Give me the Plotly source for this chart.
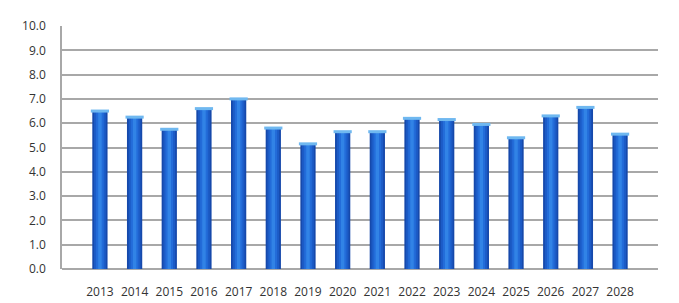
import plotly.graph_objects as go

years = [str(y) for y in range(2013, 2029)]
values = [6.5, 6.25, 5.75, 6.6, 7.0, 5.8, 5.15, 5.65, 5.65, 6.2, 6.15, 5.95, 5.4, 6.3, 6.65, 5.55]
y_ticks = [i * 1.0 for i in range(11)]
y_tick_labels = [f"{v:.1f}" for v in y_ticks]

fig = go.Figure()
layers = [(0.44, "#1649ab"), (0.34, "#1c5bc6"), (0.22, "#236cd9"), (0.10, "#3183e6")]
for w, c in layers:
    fig.add_trace(go.Bar(x=years, y=values, width=w, marker=dict(color=c, line=dict(width=0)),
                         showlegend=False, hoverinfo="skip"))
fig.add_trace(go.Scatter(x=years, y=values, mode="markers", showlegend=False, hoverinfo="skip",
                         marker=dict(symbol="line-ew", size=13, line=dict(width=3, color="#6fb8f0"))))

font = dict(family="Open Sans, DejaVu Sans, sans-serif", size=12, color="#333333")
fig.update_layout(
    width=679, height=303, barmode="overlay",
    margin=dict(l=62, r=21, t=26, b=34),
    paper_bgcolor="white", plot_bgcolor="white",
    font=font,
    xaxis=dict(showgrid=False, showline=False, ticks="", ticklabelstandoff=14, tickfont=font,
               fixedrange=True, automargin=False),
    yaxis=dict(range=[0, 10], tickvals=y_ticks, ticktext=y_tick_labels, showgrid=True,
               gridcolor="#a8a8a8", gridwidth=1.5, showline=True, linecolor="#a8a8a8", linewidth=1.5,
               zeroline=True, zerolinecolor="#a8a8a8", zerolinewidth=1.5,
               ticks="", ticklabelstandoff=12, tickfont=font, fixedrange=True, automargin=False),
)
fig.write_html("out.html")
